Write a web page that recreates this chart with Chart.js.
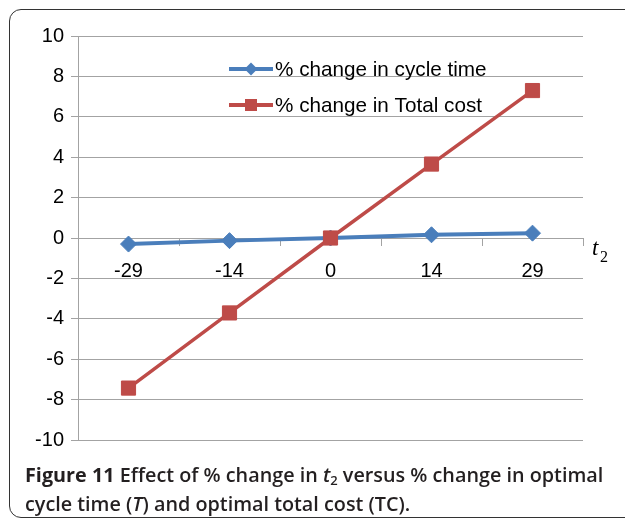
<!DOCTYPE html>
<html>
<head>
<meta charset="utf-8">
<script src="https://cdn.jsdelivr.net/npm/chart.js@4.4.1/dist/chart.umd.min.js"></script>
<style>
  html, body { margin: 0; padding: 0; background: #ffffff; overflow: hidden; }
  #wrap { position: relative; width: 625px; height: 522px; overflow: hidden; }
  #frame { position: absolute; left: 9px; top: 9px; width: 650px; height: 509px;
           border: 1.6px solid #333; border-radius: 12px; box-sizing: border-box; }
  #c { position: absolute; left: 0; top: 0; }
  #caption { position: absolute; left: 25px; top: 463px; width: 600px;
             font-family: "Open Sans", "Noto Sans", sans-serif; font-size: 19.8px; font-weight: 600;
             line-height: 24px; color: #231f20; white-space: nowrap; }
  #caption b { font-weight: 700; }
</style>
</head>
<body>
<div id="wrap">
  <div id="frame"></div>
  <canvas id="c" width="625" height="522"></canvas>
  <div id="caption"><b>Figure 11</b> Effect of % change in <i>t</i><sub style="font-size:13px;vertical-align:-3px;">2</sub> versus % change in optimal<br>cycle time (<i>T</i>) and optimal total cost (TC).</div>
</div>
<script>
const categories = ["-29", "-14", "0", "14", "29"];
const cycleTimeChange = [-0.3, -0.13, 0, 0.16, 0.24];
const totalCostChange = [-7.43, -3.71, 0, 3.66, 7.3];
const seriesNames = ["% change in cycle time", "% change in Total cost"];
const yTicks = [-10, -8, -6, -4, -2, 0, 2, 4, 6, 8, 10];

const BLUE = '#4a7ebb';
const RED = '#be4b48';
const GRID = '#a3a3a3';
const FONT = '"Liberation Sans", Arial, sans-serif';

const legendPlugin = {
  id: 'customLegend',
  afterDraw(chart) {
    const ctx = chart.ctx;
    const rows = [69, 105];
    chart.data.datasets.forEach((ds, i) => {
      const y = rows[i];
      ctx.save();
      ctx.strokeStyle = ds.borderColor;
      ctx.lineWidth = 4;
      ctx.beginPath();
      ctx.moveTo(229, y);
      ctx.lineTo(273, y);
      ctx.stroke();
      ctx.fillStyle = ds.borderColor;
      ctx.beginPath();
      if (i === 0) {
        ctx.moveTo(251, y - 6.5); ctx.lineTo(257.5, y); ctx.lineTo(251, y + 6.5); ctx.lineTo(244.5, y);
        ctx.closePath();
      } else {
        ctx.rect(245, y - 6, 12, 12);
      }
      ctx.fill();
      ctx.fillStyle = '#000';
      ctx.font = '20.7px ' + FONT;
      ctx.textBaseline = 'middle';
      ctx.textAlign = 'left';
      ctx.fillText(ds.label, 275, y + 1);
      ctx.restore();
    });
    // axis title t2
    ctx.save();
    ctx.fillStyle = '#000';
    ctx.textBaseline = 'alphabetic';
    ctx.font = 'italic 23px "Liberation Serif", "Times New Roman", serif';
    ctx.fillText('t', 592, 255);
    ctx.font = '16px "Liberation Serif", "Times New Roman", serif';
    ctx.fillText('2', 600, 262);
    ctx.restore();
  }
};

new Chart(document.getElementById('c'), {
  type: 'line',
  data: {
    labels: categories,
    datasets: [
      {
        label: seriesNames[0],
        data: cycleTimeChange,
        borderColor: BLUE,
        backgroundColor: BLUE,
        borderWidth: 4,
        pointStyle: 'rectRot',
        pointRadius: 8,
        pointBorderWidth: 1,
        pointBorderColor: BLUE,
        pointBackgroundColor: BLUE,
        tension: 0,
        order: 1
      },
      {
        label: seriesNames[1],
        data: totalCostChange,
        borderColor: RED,
        backgroundColor: RED,
        borderWidth: 3.5,
        pointStyle: 'rect',
        pointRadius: 10,
        pointBorderWidth: 1,
        pointBorderColor: RED,
        pointBackgroundColor: RED,
        tension: 0,
        order: 0
      }
    ]
  },
  options: {
    responsive: false,
    animation: false,
    devicePixelRatio: 1,
    layout: { padding: { left: 0, top: 36, right: 42, bottom: 82 } },
    plugins: { legend: { display: false }, tooltip: { enabled: false } },
    scales: {
      x: {
        type: 'category',
        position: { y: 0 },
        offset: true,
        grid: { display: true, drawOnChartArea: false, offset: true, tickLength: 7, color: GRID, lineWidth: 1 },
        border: { display: true, color: GRID, width: 1 },
        ticks: { color: '#000', font: { family: FONT, size: 20 }, padding: 14, maxRotation: 0, autoSkip: false }
      },
      y: {
        min: -10,
        max: 10,
        afterFit(scale) { scale.width = 78; },
        afterBuildTicks(scale) { scale.ticks = yTicks.map(v => ({ value: v })); },
        grid: { color: GRID, lineWidth: 1, tickLength: 7 },
        border: { display: true, color: GRID, width: 1 },
        ticks: { color: '#000', font: { family: FONT, size: 20 }, padding: 7 }
      }
    }
  },
  plugins: [legendPlugin]
});
</script>
</body>
</html>
